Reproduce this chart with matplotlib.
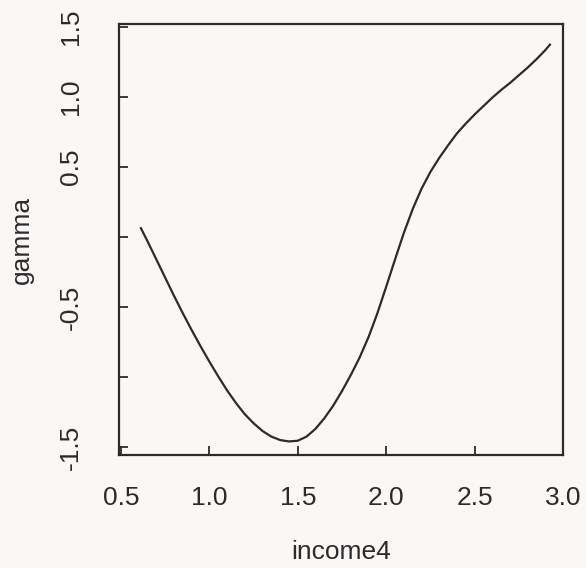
import matplotlib
matplotlib.use("Agg")
import matplotlib.pyplot as plt

# values
income4 = [0.61, 0.65, 0.70, 0.75, 0.80, 0.85, 0.90, 0.95, 1.00, 1.05,
           1.10, 1.15, 1.20, 1.25, 1.30, 1.35, 1.40, 1.45, 1.50, 1.55,
           1.60, 1.65, 1.70, 1.75, 1.80, 1.85, 1.90, 1.95, 2.00, 2.05,
           2.10, 2.15, 2.20, 2.25, 2.30, 2.35, 2.40, 2.45, 2.50, 2.55,
           2.60, 2.65, 2.70, 2.75, 2.80, 2.85, 2.90, 2.93]
gamma = [0.07, -0.03, -0.16, -0.29, -0.42, -0.545, -0.665, -0.78, -0.89, -0.995,
         -1.095, -1.185, -1.265, -1.33, -1.385, -1.425, -1.45, -1.46, -1.455, -1.425,
         -1.37, -1.295, -1.205, -1.10, -0.985, -0.86, -0.715, -0.545, -0.355, -0.16,
         0.03, 0.20, 0.345, 0.465, 0.565, 0.655, 0.74, 0.81, 0.875, 0.935,
         0.995, 1.05, 1.10, 1.155, 1.21, 1.27, 1.335, 1.38]

x_ticks = [0.5, 1.0, 1.5, 2.0, 2.5, 3.0]
x_ticklabels = ['0.5', '1.0', '1.5', '2.0', '2.5', '3.0']
y_ticks = [-1.5, -1.0, -0.5, 0.0, 0.5, 1.0, 1.5]
y_ticklabels = ['-1.5', '', '-0.5', '', '0.5', '1.0', '1.5']

ink = '#2b2b2e'
paper = '#faf7f4'

plt.rcParams['font.family'] = ['Liberation Sans', 'DejaVu Sans']

fig = plt.figure(figsize=(5.86, 5.68), dpi=100, facecolor=paper)
ax = fig.add_axes([0.2031, 0.1989, 0.7577, 0.7588], facecolor=paper)

ax.plot(income4, gamma, color=ink, linewidth=1.6,
        solid_joinstyle='round', solid_capstyle='butt')

ax.set_xlim(0.489, 2.983)
ax.set_ylim(-1.557, 1.521)

ax.set_xticks(x_ticks)
ax.set_xticklabels(x_ticklabels)
ax.set_yticks(y_ticks)
ax.set_yticklabels(y_ticklabels, rotation=90, va='center')

ax.tick_params(direction='in', length=6.5, width=1.3, color=ink,
               labelcolor=ink, labelsize=19)
ax.tick_params(axis='x', pad=22)
ax.tick_params(axis='y', pad=26)

for side in ax.spines.values():
    side.set_color(ink)
    side.set_linewidth(1.6)

ax.set_xlabel('income4', fontsize=19, color=ink, va='center')
ax.set_ylabel('gamma', fontsize=19, color=ink, va='center')
ax.xaxis.set_label_coords(0.5, -0.225)
ax.yaxis.set_label_coords(-0.218, 0.5)

fig.savefig('out.png', dpi=100, facecolor=paper)
